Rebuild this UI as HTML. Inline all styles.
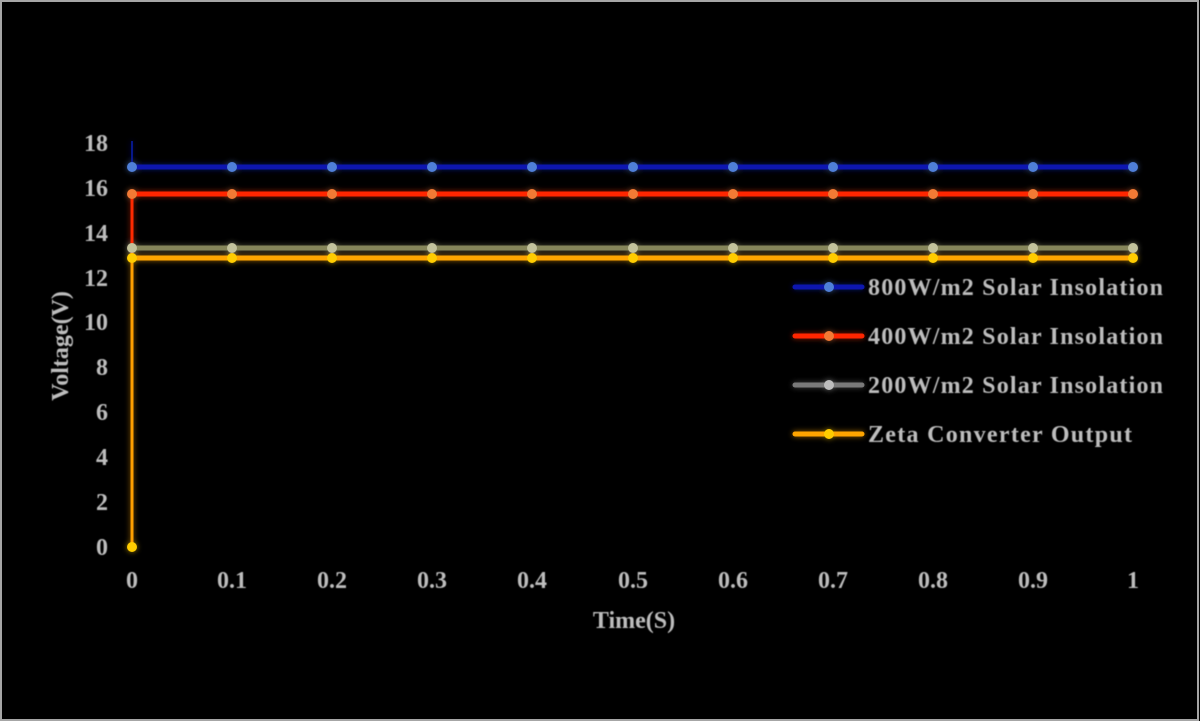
<!DOCTYPE html>
<html>
<head>
<meta charset="utf-8">
<style>
html,body{margin:0;padding:0;background:#000;}
body{width:1200px;height:721px;overflow:hidden;}
svg{display:block;}
text{font-family:"Liberation Serif",serif;font-weight:bold;fill:#bdbdbd;}
</style>
</head>
<body>
<svg width="1200" height="721" viewBox="0 0 1200 721" xmlns="http://www.w3.org/2000/svg">
<defs>
<filter id="glow" x="-50%" y="-50%" width="200%" height="200%">
<feGaussianBlur in="SourceGraphic" stdDeviation="3" result="b"/>
<feComponentTransfer in="b" result="b2"><feFuncA type="linear" slope="0.6"/></feComponentTransfer>
<feMerge><feMergeNode in="b2"/><feMergeNode in="SourceGraphic"/></feMerge>
</filter>
<filter id="soft" x="-10%" y="-10%" width="120%" height="120%">
<feGaussianBlur stdDeviation="0.4"/>
</filter>
</defs>
<rect x="0" y="0" width="1200" height="721" fill="#000"/>
<rect x="1" y="1" width="1197" height="719" fill="none" stroke="#a6a6a6" stroke-width="2"/>

<!-- Y tick labels -->
<g font-size="24" text-anchor="end" filter="url(#soft)">
<text x="108" y="555">0</text>
<text x="108" y="510">2</text>
<text x="108" y="465">4</text>
<text x="108" y="420">6</text>
<text x="108" y="375">8</text>
<text x="108" y="330">10</text>
<text x="108" y="286">12</text>
<text x="108" y="241">14</text>
<text x="108" y="196">16</text>
<text x="108" y="151">18</text>
</g>

<!-- X tick labels -->
<g font-size="24" text-anchor="middle" filter="url(#soft)">
<text x="132" y="588">0</text>
<text x="232" y="588">0.1</text>
<text x="332" y="588">0.2</text>
<text x="432" y="588">0.3</text>
<text x="532" y="588">0.4</text>
<text x="633" y="588">0.5</text>
<text x="733" y="588">0.6</text>
<text x="833" y="588">0.7</text>
<text x="933" y="588">0.8</text>
<text x="1033" y="588">0.9</text>
<text x="1133" y="588">1</text>
</g>

<!-- Axis titles -->
<text x="634" y="628" font-size="24" text-anchor="middle" filter="url(#soft)">Time(S)</text>
<text transform="translate(68,346) rotate(-90)" font-size="24" text-anchor="middle" filter="url(#soft)">Voltage(V)</text>

<!-- Series -->
<g filter="url(#glow)">
<!-- vertical starts -->
<line x1="132" y1="141" x2="132" y2="167" stroke="#0c1cb0" stroke-width="1.5"/>
<line x1="132" y1="194" x2="132" y2="258" stroke="#ff2a00" stroke-width="3"/>
<line x1="132" y1="258" x2="132" y2="547" stroke="#ffa000" stroke-width="3"/>

<line x1="132" y1="167" x2="1133" y2="167" stroke="#0818b0" stroke-width="5"/>
<line x1="132" y1="194" x2="1133" y2="194" stroke="#ff2800" stroke-width="5"/>
<line x1="132" y1="248" x2="1133" y2="248" stroke="#86865a" stroke-width="5"/>
<line x1="132" y1="258" x2="1133" y2="258" stroke="#ffa500" stroke-width="5"/>

<g fill="#4f7fd8">
<circle cx="132" cy="167" r="5"/><circle cx="232" cy="167" r="5"/><circle cx="332" cy="167" r="5"/><circle cx="432" cy="167" r="5"/><circle cx="532" cy="167" r="5"/><circle cx="633" cy="167" r="5"/><circle cx="733" cy="167" r="5"/><circle cx="833" cy="167" r="5"/><circle cx="933" cy="167" r="5"/><circle cx="1033" cy="167" r="5"/><circle cx="1133" cy="167" r="5"/>
</g>
<g fill="#f27a35">
<circle cx="132" cy="194" r="5"/><circle cx="232" cy="194" r="5"/><circle cx="332" cy="194" r="5"/><circle cx="432" cy="194" r="5"/><circle cx="532" cy="194" r="5"/><circle cx="633" cy="194" r="5"/><circle cx="733" cy="194" r="5"/><circle cx="833" cy="194" r="5"/><circle cx="933" cy="194" r="5"/><circle cx="1033" cy="194" r="5"/><circle cx="1133" cy="194" r="5"/>
</g>
<g fill="#c2c29c">
<circle cx="132" cy="248" r="5"/><circle cx="232" cy="248" r="5"/><circle cx="332" cy="248" r="5"/><circle cx="432" cy="248" r="5"/><circle cx="532" cy="248" r="5"/><circle cx="633" cy="248" r="5"/><circle cx="733" cy="248" r="5"/><circle cx="833" cy="248" r="5"/><circle cx="933" cy="248" r="5"/><circle cx="1033" cy="248" r="5"/><circle cx="1133" cy="248" r="5"/>
</g>
<g fill="#ffcc00">
<circle cx="132" cy="547" r="5"/>
<circle cx="132" cy="258" r="5"/><circle cx="232" cy="258" r="5"/><circle cx="332" cy="258" r="5"/><circle cx="432" cy="258" r="5"/><circle cx="532" cy="258" r="5"/><circle cx="633" cy="258" r="5"/><circle cx="733" cy="258" r="5"/><circle cx="833" cy="258" r="5"/><circle cx="933" cy="258" r="5"/><circle cx="1033" cy="258" r="5"/><circle cx="1133" cy="258" r="5"/>
</g>
</g>

<!-- Legend -->
<g filter="url(#glow)">
<line x1="795" y1="287" x2="862" y2="287" stroke="#0818b0" stroke-width="5" stroke-linecap="round"/>
<circle cx="829" cy="287" r="5" fill="#4f7fd8"/>
<line x1="795" y1="336" x2="862" y2="336" stroke="#ff2800" stroke-width="5" stroke-linecap="round"/>
<circle cx="829" cy="336" r="5" fill="#f27a35"/>
<line x1="795" y1="385" x2="862" y2="385" stroke="#7a7a7a" stroke-width="5" stroke-linecap="round"/>
<circle cx="829" cy="385" r="5" fill="#bdbdbd"/>
<line x1="795" y1="434" x2="862" y2="434" stroke="#ffa500" stroke-width="5" stroke-linecap="round"/>
<circle cx="829" cy="434" r="5" fill="#ffcc00"/>
</g>
<g font-size="24" filter="url(#soft)">
<text x="868" y="295" textLength="295" lengthAdjust="spacing">800W/m2 Solar Insolation</text>
<text x="868" y="344" textLength="295" lengthAdjust="spacing">400W/m2 Solar Insolation</text>
<text x="868" y="393" textLength="295" lengthAdjust="spacing">200W/m2 Solar Insolation</text>
<text x="868" y="442" textLength="264" lengthAdjust="spacing">Zeta Converter Output</text>
</g>
</svg>
</body>
</html>
